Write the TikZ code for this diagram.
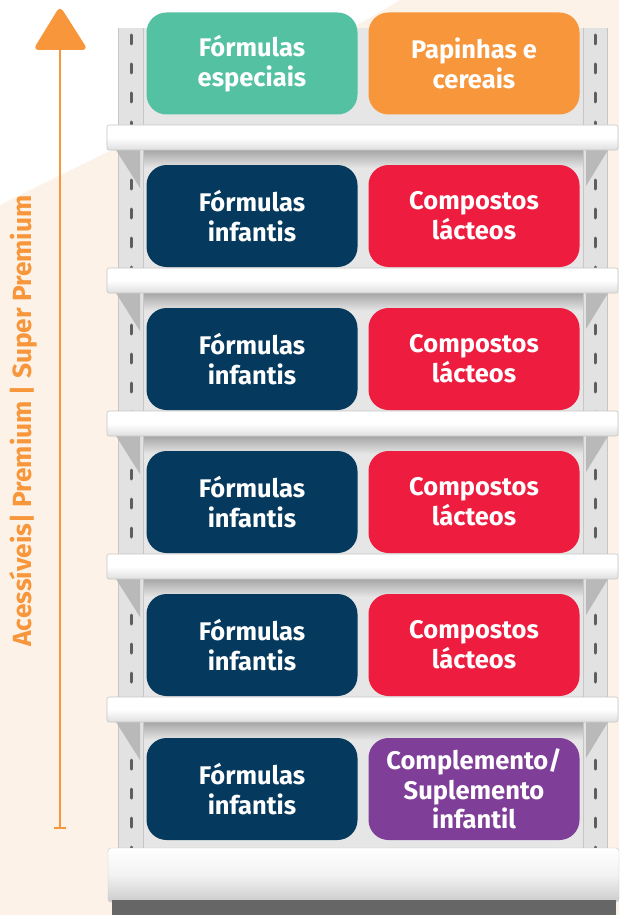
\documentclass[tikz,border=0pt]{standalone}
\usepackage{fontspec}
\setmainfont{Fira Sans}
\usetikzlibrary{calc}
\definecolor{cream}{HTML}{FDF2E8}
\definecolor{orangeA}{HTML}{F7963A}
\definecolor{greenA}{HTML}{54C1A2}
\definecolor{navyA}{HTML}{053A5E}
\definecolor{redA}{HTML}{EE1C3E}
\definecolor{purpleA}{HTML}{7F3F98}
\definecolor{panel}{HTML}{E6E6E6}
\definecolor{upr}{HTML}{E2E2E2}
\definecolor{slot}{HTML}{5E5E5E}
\tikzset{
  box/.style={rounded corners=20pt, minimum width=211pt, minimum height=102pt,
    inner sep=0pt, text=white, align=center,
    font=\fontsize{25.5}{30}\selectfont\bfseries},
  lip/.style={top color=white, bottom color=gray!25, middle color=white, draw=gray!45, line width=0.6pt},
  slotline/.style={draw=slot, line width=3pt, line cap=round}
}
\begin{document}
\begin{tikzpicture}[x=1pt,y=-1pt]
\useasboundingbox (0,0) rectangle (619,915);
% background
\fill[cream] (0,0) rectangle (619,915);
\fill[white] (0,0) -- (0,205) .. controls (150,130) and (300,60) .. (400,0) -- cycle;
% back panel
\fill[panel] (140,28) rectangle (586,848);
% shadows under lips
\foreach \y in {150,293,436,579,722}{
  \shade[top color=gray!70, bottom color=panel] (140,\y) rectangle (586,\y+18);
}
% uprights
\foreach \xa/\xb in {118/143,583/607}{
  \fill[upr] (\xa,28) rectangle (\xb,848);
  \draw[gray!45, line width=0.6pt] (\xa,28) -- (\xa,848) (\xb,28) -- (\xb,848);
}
% slots
\foreach \k in {0,...,28}{
  \draw[slotline] (131,{35+\k*29}) -- (131,{44+\k*29});
  \draw[slotline] (595,{35+\k*29}) -- (595,{44+\k*29});
}
% brackets
\foreach \y in {150,293,436,579,722}{
  \fill[gray!55] (116,\y) -- (140,\y) -- (140,\y+38) -- cycle;
  \fill[gray!55] (586,\y) -- (608,\y) -- (586,\y+36) -- cycle;
}
% shelf lips
\foreach \y in {125,268,411,554,697}{
  \draw[lip, rounded corners=2pt] (107,\y) rectangle (618,\y+25);
}
% base
\shade[top color=white, bottom color=gray!40, middle color=gray!10, draw=gray!45, rounded corners=3pt] (108,848) rectangle (619,902);
\fill[gray!80!black] (112,900) rectangle (616,915);
% boxes
\node[box, fill=greenA]  (b1l) at (252,63.5) {Fórmulas\\especiais};
\node[box, fill=orangeA] (b1r) at (474,63.5) {Papinhas e\\cereais};
\node[box, fill=navyA] (b2l) at (252,216) {Fórmulas\\infantis};
\node[box, fill=redA]  (b2r) at (474,216) {Compostos\\lácteos};
\node[box, fill=navyA] (b3l) at (252,359) {Fórmulas\\infantis};
\node[box, fill=redA]  (b3r) at (474,359) {Compostos\\lácteos};
\node[box, fill=navyA] (b4l) at (252,502) {Fórmulas\\infantis};
\node[box, fill=redA]  (b4r) at (474,502) {Compostos\\lácteos};
\node[box, fill=navyA] (b5l) at (252,645) {Fórmulas\\infantis};
\node[box, fill=redA]  (b5r) at (474,645) {Compostos\\lácteos};
\node[box, fill=navyA] (b6l) at (252,789) {Fórmulas\\infantis};
\node[box, fill=purpleA, font=\fontsize{25.5}{29.5}\selectfont\bfseries] (b6r) at (474,789) {Complemento/\\Suplemento\\infantil};
% arrow
\coordinate (atop) at (60,40);
\coordinate (abot) at (60,828);
\draw[orangeA, line width=2.8pt] (abot) -- (atop);
\draw[orangeA, line width=2.4pt] ($(abot)+(-6,0)$) -- ($(abot)+(6,0)$);
\fill[orangeA, rounded corners=6pt] (60,6) -- (88,50) -- (33,50) -- cycle;
% vertical label
\node[rotate=90, text=orangeA, font=\fontsize{26.3}{30}\selectfont\bfseries, inner sep=0pt] (lbl) at (23,421) {Acessíveis| Premium | Super Premium};
\end{tikzpicture}
\end{document}
